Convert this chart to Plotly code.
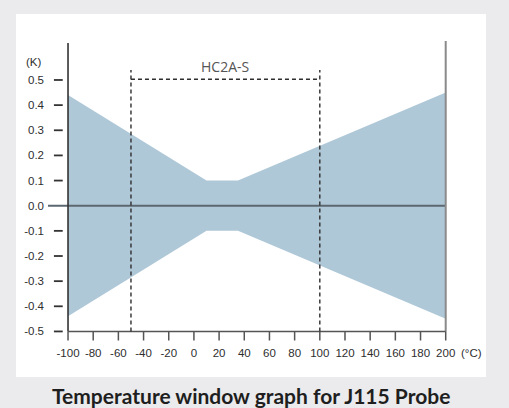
import plotly.graph_objects as go

# ---- data ----
temps = [-100, 10, 35, 200]
upper = [0.44, 0.10, 0.10, 0.45]
lower = [-0.44, -0.10, -0.10, -0.45]

window_lo, window_hi = -50, 100
window_top = 0.503
window_label = "HC2A-S"

x_ticks = list(range(-100, 201, 20))
x_ticktext = [str(v) for v in x_ticks]
y_ticks = [0.5, 0.4, 0.3, 0.2, 0.1, 0.0, -0.1, -0.2, -0.3, -0.4, -0.5]
y_ticktext = ["0.5", "0.4", "0.3", "0.2", "0.1", "0.0", "-0.1", "-0.2", "-0.3", "-0.4", "-0.5"]

title = "Temperature window graph for J115 Probe"

# ---- layout geometry ----
W, H = 509, 408
ML, MR, MT, MB = 48, 58, 40, 67
XR = [-115.9, 204.2]
YR = [-0.538, 0.659]
x_min, x_max = -100, 200
y_min = -0.5

TICKFONT = dict(family="Liberation Sans", size=11.5, color="#2e2e2e")

fig = go.Figure()

fig.add_trace(go.Scatter(
    x=temps + temps[::-1],
    y=upper + lower[::-1],
    fill="toself", fillcolor="#afc8d8",
    line=dict(width=0), mode="lines", hoverinfo="skip", showlegend=False,
))

shapes = []
# white card
shapes.append(dict(type="rect", xref="paper", yref="paper",
                   x0=-32 / 403, x1=438 / 403, y0=(341 - 377) / 301, y1=(341 - 14) / 301,
                   fillcolor="white", line=dict(width=0), layer="below"))
# zero line
shapes.append(dict(type="line", xref="x", yref="y", x0=XR[0], x1=x_max, y0=0, y1=0,
                   line=dict(color="#5c6770", width=2)))
# left axis
shapes.append(dict(type="line", xref="x", yref="y", x0=x_min, x1=x_min, y0=y_min, y1=0.647,
                   line=dict(color="#333333", width=1.6)))
# right line
shapes.append(dict(type="line", xref="x", yref="y", x0=x_max, x1=x_max, y0=y_min, y1=0.655,
                   line=dict(color="#8a8a8a", width=2)))
# bottom axis
shapes.append(dict(type="line", xref="x", yref="y", x0=x_min, x1=x_max, y0=y_min, y1=y_min,
                   line=dict(color="#555555", width=1.6)))
# x tick marks
for t in x_ticks:
    shapes.append(dict(type="line", xref="x", yref="y", x0=t, x1=t, y0=y_min, y1=-0.536,
                       line=dict(color="#555555", width=1.5)))
# y tick marks
for v in y_ticks:
    if v == 0:
        continue
    shapes.append(dict(type="line", xref="x", yref="y", x0=-111.2, x1=-104.2, y0=v, y1=v,
                       line=dict(color="#333333", width=1.8)))
# dashed window
dash = dict(color="#2e2e2e", width=1.4, dash="4px,3px")
for xv in (window_lo, window_hi):
    shapes.append(dict(type="line", xref="x", yref="y", x0=xv, x1=xv, y0=y_min, y1=0.54, line=dash))
shapes.append(dict(type="line", xref="x", yref="y", x0=window_lo, x1=window_hi,
                   y0=window_top, y1=window_top, line=dash))

annotations = [
    dict(text=window_label, x=(window_lo + window_hi) / 2, y=0.553, xref="x", yref="y",
         showarrow=False, font=dict(family="Open Sans", size=14, color="#555555"),
         xanchor="center", yanchor="middle"),
    dict(text="(K)", x=-4 / 403, y=0.572, xref="paper", yref="y", showarrow=False,
         font=TICKFONT, xanchor="right", yanchor="middle"),
    dict(text="(°C)", x=(459 - 48) / 403, y=(341 - 353) / 301, xref="paper", yref="paper",
         showarrow=False, font=TICKFONT, xanchor="left", yanchor="middle"),
    dict(text=title, x=(251 - 48) / 403, y=(341 - 395.5) / 301, xref="paper", yref="paper",
         showarrow=False, font=dict(family="Lato", size=21, color="#1e1e1e", weight=700),
         xanchor="center", yanchor="middle"),
]

fig.update_layout(
    width=W, height=H,
    margin=dict(l=ML, r=MR, t=MT, b=MB, pad=0),
    paper_bgcolor="#ebebed", plot_bgcolor="white",
    shapes=shapes, annotations=annotations, showlegend=False,
    xaxis=dict(range=XR, tickvals=x_ticks, ticktext=x_ticktext, ticks="", showgrid=False,
               zeroline=False, showline=False, tickfont=TICKFONT, ticklabelstandoff=3,
               fixedrange=True),
    yaxis=dict(range=YR, tickvals=y_ticks, ticktext=y_ticktext, ticks="", showgrid=False,
               zeroline=False, showline=False, tickfont=TICKFONT, ticklabelstandoff=3,
               fixedrange=True),
)

fig.write_html("out.html", config={"displayModeBar": False},
               post_script="document.body.style.margin='0';document.body.style.overflow='hidden';")
